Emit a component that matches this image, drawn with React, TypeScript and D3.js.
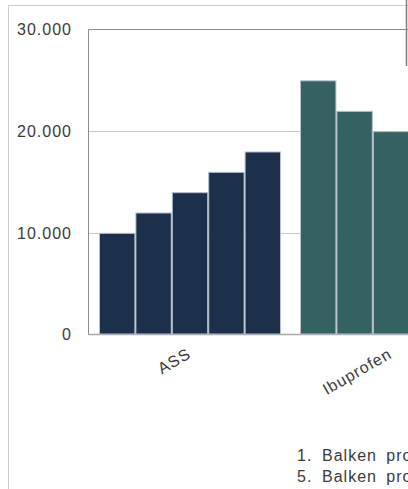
import React from "react";
import * as d3 from "d3";

const categories = ["ASS", "Ibuprofen"];
const seriesNames = [
  "1. Balken pro Kategorie",
  "2. Balken pro Kategorie",
  "3. Balken pro Kategorie",
  "4. Balken pro Kategorie",
  "5. Balken pro Kategorie",
];
const assValues = [10000, 12000, 14000, 16000, 18000];
const ibuprofenValues = [25000, 22000, 20000, 18000, 17000];
const categoryColors = ["#1c2f4b", "#356162"];
const yTicks = [0, 10000, 20000, 30000];

const valuesByCategory = [assValues, ibuprofenValues];

const W = 408;
const H = 489;
const plotLeft = 88.5;
const plotTop = 29.5;
const plotBottom = 334.5;
const plotRight = 720;

const fmt = d3
  .formatLocale({ decimal: ",", thousands: ".", grouping: [3], currency: ["", "€"] })
  .format(",");

export default function App() {
  const x0 = d3
    .scaleBand<string>()
    .domain(categories)
    .range([89.5, 491.5])
    .paddingInner(19 / 201)
    .paddingOuter(0.04725);
  const xs = d3.scaleBand<number>().domain(d3.range(seriesNames.length)).range([0, x0.bandwidth()]).padding(0);
  const y = d3.scaleLinear().domain([0, 30000]).range([plotBottom, plotTop]);
  const textColor = "#3a3a3a";
  const font = "'Liberation Sans', Arial, sans-serif";

  const legendCols = 4;
  const legendItems = seriesNames
    .map((name, i) => ({ name, lx: 297 + (i % legendCols) * 200, ly: 461 + Math.floor(i / legendCols) * 20.5 }))
    .filter((d) => d.lx < W);

  return (
    <svg
      width={W}
      height={H}
      style={{ position: "absolute", left: 0, top: 0, overflow: "hidden", background: "#fff" }}
      fontFamily={font}
    >
      {/* outer dotted frame */}
      <rect x={8.5} y={5.5} width={800} height={800} fill="none" stroke="#9a9a9a" strokeDasharray="1 1" />
      <line x1={406.5} x2={406.5} y1={0} y2={66} stroke="#7a7a7a" strokeWidth={1.5} />

      {/* gridlines */}
      {yTicks.filter((t) => t > 0 && t < 30000).map((t) => (
        <line key={t} x1={plotLeft} x2={plotRight} y1={Math.round(y(t)) + 0.5} y2={Math.round(y(t)) + 0.5} stroke="#c8c8c8" />
      ))}
      {/* plot frame */}
      <line x1={plotLeft} x2={plotRight} y1={plotTop} y2={plotTop} stroke="#8c8c8c" />
      <line x1={plotLeft} x2={plotLeft} y1={plotTop} y2={plotBottom} stroke="#8c8c8c" />
      <line x1={plotLeft - 0.5} x2={plotRight} y1={plotBottom} y2={plotBottom} stroke="#a8a8a8" strokeWidth={1.5} />

      {/* bars */}
      {categories.map((c, ci) => (
        <g key={c} transform={`translate(${x0(c)},0)`}>
          {valuesByCategory[ci].map((v, si) => (
            <rect
              key={si}
              x={(xs(si) as number) + 0.5}
              y={y(v) + 0.5}
              width={xs.bandwidth() - 1}
              height={y(0) - y(v) - 1}
              fill={categoryColors[ci]}
              stroke="#b4bfca"
              strokeWidth={1}
            />
          ))}
        </g>
      ))}

      {/* y tick labels */}
      {yTicks.map((t) => (
        <text key={t} x={72} y={y(t)} dy="0.36em" textAnchor="end" fontSize={16} letterSpacing={1} fill={textColor}>
          {fmt(t)}
        </text>
      ))}

      {/* x category labels */}
      {categories.map((c) => {
        const cx = (x0(c) as number) + x0.bandwidth() / 2 + 2;
        const cy = 357;
        return (
          <text
            key={c}
            transform={`translate(${cx},${cy}) rotate(-30)`}
            textAnchor="end"
            fontSize={16}
            letterSpacing={1}
            fill={textColor}
          >
            {c}
          </text>
        );
      })}

      {/* legend (only the columns inside the visible frame) */}
      {legendItems.map(({ name, lx, ly }) => {
        const parts = name.split(". ");
        return (
          <text key={name} x={lx} y={ly} fontSize={16} letterSpacing={1} wordSpacing={4} fill={textColor}>
            <tspan>{parts[0] + "."}</tspan>
            <tspan x={lx + 25}>{parts[1]}</tspan>
          </text>
        );
      })}
    </svg>
  );
}
